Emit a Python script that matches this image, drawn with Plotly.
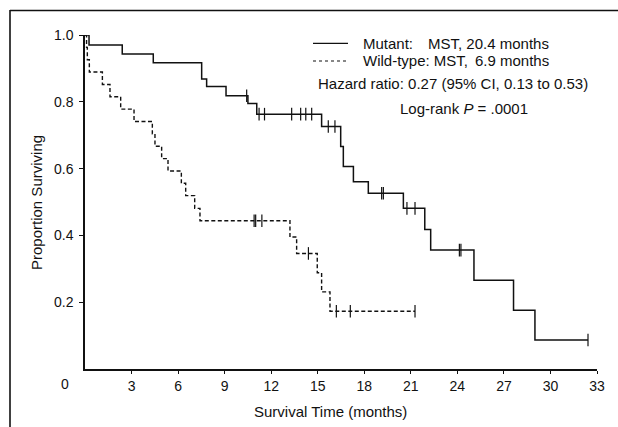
import plotly.graph_objects as go

# ---------------- data ----------------
mut_event_t = [0.26, 2.4, 4.4, 7.52, 7.84, 9.09, 10.5, 11.07, 15.25, 16.48, 16.65,
               17.3, 18.26, 20.52, 21.9, 22.28, 25.07, 27.62, 29.0]
mut_event_s = [0.970, 0.943, 0.917, 0.868, 0.846, 0.818, 0.795, 0.763, 0.726, 0.666,
               0.606, 0.561, 0.526, 0.481, 0.418, 0.356, 0.266, 0.176, 0.087]
mut_censor_t = [10.42, 11.22, 11.57, 13.32, 13.9, 14.23, 14.61, 15.68, 16.11,
                19.12, 19.23, 20.75, 21.27, 24.13, 24.23, 32.42]

wt_event_t = [0.10, 0.15, 0.28, 1.12, 1.61, 2.3, 3.16, 4.34, 4.51, 4.94, 5.35, 6.21,
              6.49, 7.07, 7.41, 13.21, 13.64, 14.97, 15.25, 15.79]
wt_event_s = [0.963, 0.926, 0.889, 0.852, 0.815, 0.778, 0.741, 0.704, 0.667, 0.630,
              0.593, 0.556, 0.519, 0.481, 0.444, 0.395, 0.346, 0.288, 0.231, 0.173]
wt_censor_t = [10.9, 11.0, 11.4, 14.4, 16.2, 17.1, 21.27]

x_tickvals = [3, 6, 9, 12, 15, 18, 21, 24, 27, 30, 33]
y_tickvals = [0.2, 0.4, 0.6, 0.8, 1.0]

# ---------------- layout geometry ----------------
W, H = 618, 427
# plot area in page pixels: x 85..597, y 35..369
PL, PR, PT, PB = 85, 597, 35, 369
ML, MT = PL, PT
MR = W - PR
MB = H - PB
PW = PR - PL
PH = PB - PT


def px_x(px):
    return (px - PL) / PW


def px_y(py):
    return (PB - py) / PH


def surv_at(t, ev_t, ev_s):
    s = 1.0
    for et, es in zip(ev_t, ev_s):
        if et <= t:
            s = es
    return s


def step_xy(ev_t, ev_s, cens_t):
    xs = [0.0] + list(ev_t)
    ys = [1.0] + list(ev_s)
    end = max(cens_t)
    if end > xs[-1]:
        xs.append(end)
        ys.append(ys[-1])
    return xs, ys


INK = "#111111"
FONT = "Liberation Sans, Arial, Helvetica, sans-serif"

fig = go.Figure()

mx, my = step_xy(mut_event_t, mut_event_s, mut_censor_t)
wx, wy = step_xy(wt_event_t, wt_event_s, wt_censor_t)

fig.add_trace(go.Scatter(x=wx, y=wy, mode="lines", line_shape="hv",
                         line=dict(color=INK, width=1.4, dash="4px,2.5px"),
                         cliponaxis=False, showlegend=False, hoverinfo="skip"))
fig.add_trace(go.Scatter(x=wt_censor_t,
                         y=[surv_at(t, wt_event_t, wt_event_s) for t in wt_censor_t],
                         mode="markers",
                         marker=dict(symbol="line-ns", size=9,
                                     line=dict(width=1.2, color=INK)),
                         cliponaxis=False, showlegend=False, hoverinfo="skip"))
fig.add_trace(go.Scatter(x=mx, y=my, mode="lines", line_shape="hv",
                         line=dict(color=INK, width=1.5),
                         cliponaxis=False, showlegend=False, hoverinfo="skip"))
fig.add_trace(go.Scatter(x=mut_censor_t,
                         y=[surv_at(t, mut_event_t, mut_event_s) for t in mut_censor_t],
                         mode="markers",
                         marker=dict(symbol="line-ns", size=9,
                                     line=dict(width=1.2, color=INK)),
                         cliponaxis=False, showlegend=False, hoverinfo="skip"))

fig.update_xaxes(range=[0, 33], tickvals=x_tickvals, ticks="outside", ticklen=3,
                 tickwidth=1, tickcolor=INK, showline=True, linecolor=INK,
                 linewidth=1.5, showgrid=False, zeroline=False,
                 tickfont=dict(size=14, color=INK, family=FONT))
fig.update_yaxes(range=[0, 1.0], tickvals=y_tickvals, tickformat=".1f",
                 ticks="outside", ticklen=4, tickwidth=1, tickcolor=INK,
                 showline=True, linecolor=INK, linewidth=1.5, showgrid=False,
                 zeroline=False, ticklabelstandoff=3,
                 tickfont=dict(size=14, color=INK, family=FONT))

ann = [
    dict(text="0", x=px_x(65), y=px_y(384), font=dict(size=14)),
    dict(text="Survival Time (months)", x=px_x(330), y=px_y(411), font=dict(size=15)),
    dict(text="Proportion Surviving", x=px_x(36), y=px_y(203), textangle=-90,
         font=dict(size=15)),
    dict(text="Mutant:", x=px_x(361), y=px_y(43.3), xanchor="left", font=dict(size=15)),
    dict(text="MST, 20.4 months", x=px_x(551), y=px_y(43.3), xanchor="right",
         font=dict(size=15)),
    dict(text="Wild-type: MST,", x=px_x(361), y=px_y(61), xanchor="left",
         font=dict(size=15)),
    dict(text="6.9 months", x=px_x(551), y=px_y(61), xanchor="right", font=dict(size=15)),
    dict(text="Hazard ratio: 0.27 (95% CI, 0.13 to 0.53)", x=px_x(452.5), y=px_y(83.5),
         font=dict(size=15)),
    dict(text="Log-rank <i>P</i> = .0001", x=px_x(464), y=px_y(108), font=dict(size=15)),
]
for a in ann:
    a.setdefault("xanchor", "center")
    a.update(xref="paper", yref="paper", yanchor="middle", showarrow=False)
    a["font"].update(color=INK, family=FONT)
fig.update_layout(annotations=ann)

shapes = [
    # legend line samples
    dict(type="line", xref="paper", yref="paper", x0=px_x(313), x1=px_x(348),
         y0=px_y(43.3), y1=px_y(43.3), line=dict(color=INK, width=1.3)),
    dict(type="line", xref="paper", yref="paper", x0=px_x(313), x1=px_x(348),
         y0=px_y(61), y1=px_y(61), line=dict(color=INK, width=1.1, dash="dot")),
    # scanned page frame (left and top edges)
    dict(type="line", xref="paper", yref="paper", x0=px_x(10), x1=px_x(10),
         y0=px_y(10), y1=px_y(H), line=dict(color=INK, width=1.6)),
    dict(type="line", xref="paper", yref="paper", x0=px_x(10), x1=px_x(W),
         y0=px_y(10.5), y1=px_y(10.5), line=dict(color=INK, width=1.6)),
]
fig.update_layout(shapes=shapes)

fig.update_layout(width=W, height=H, margin=dict(l=ML, r=MR, t=MT, b=MB),
                  paper_bgcolor="white", plot_bgcolor="white",
                  font=dict(family=FONT, color=INK))

fig.write_html(
    "out.html",
    config={"displayModeBar": False},
    post_script=(
        "document.documentElement.style.overflow='hidden';"
        "document.body.style.margin='0';"
        "document.body.style.overflow='hidden';"
    ),
)
